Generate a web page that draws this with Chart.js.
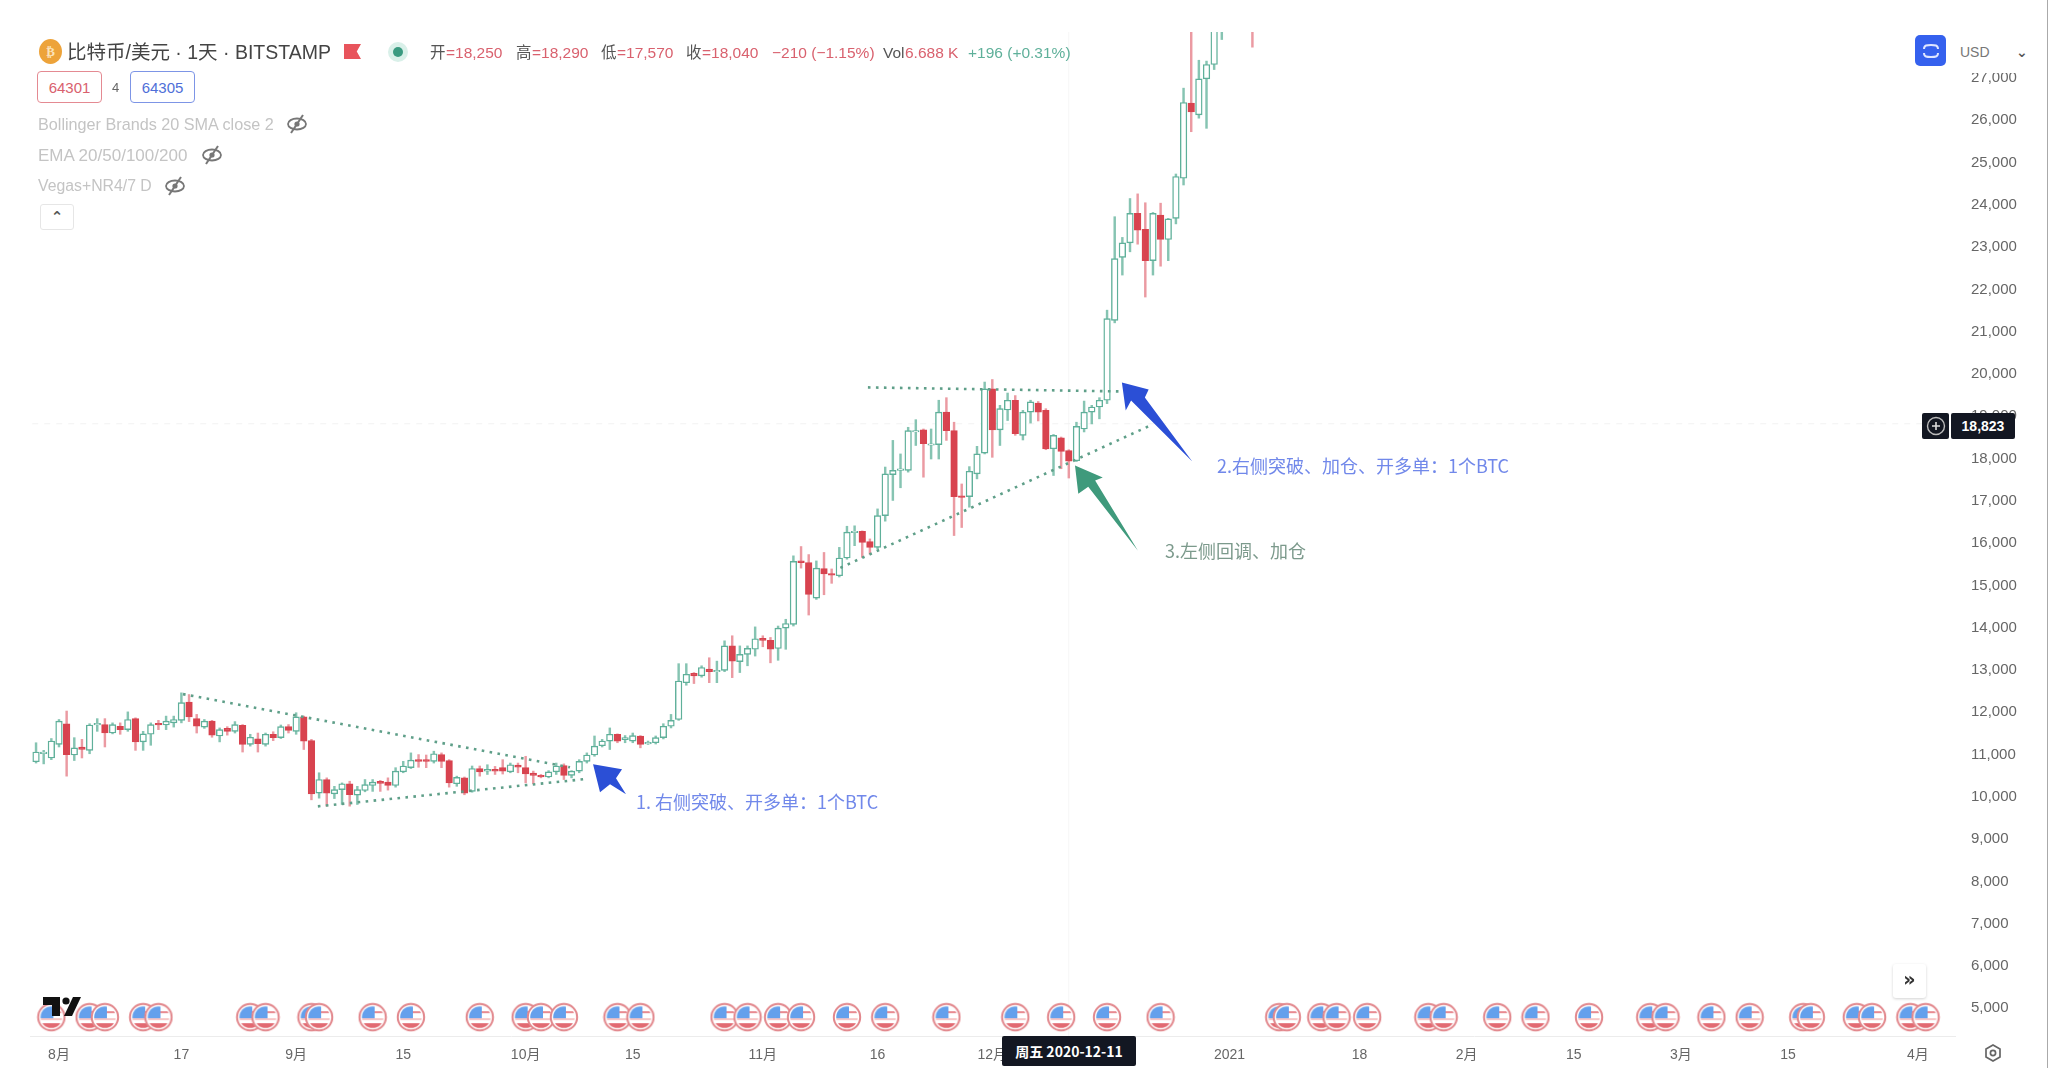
<!DOCTYPE html>
<html><head><meta charset="utf-8">
<script src="https://cdn.jsdelivr.net/npm/chart.js@4"></script>
<style>
html,body{margin:0;padding:0;background:#fff;width:2048px;height:1068px;overflow:hidden}
#wrap{position:absolute;left:0;top:0;width:2048px;height:1068px;filter:blur(.75px);font-family:"Liberation Sans","Noto Sans CJK SC",sans-serif}
#c{position:absolute;left:0;top:0}
.t{position:absolute;white-space:nowrap;line-height:1;transform:translateY(-50%)}
.box{position:absolute;box-sizing:border-box;display:flex;align-items:center;justify-content:center;background:#fff}
</style></head><body>
<div id="wrap">
<canvas id="c" width="2048" height="1068" style="width:2048px;height:1068px"></canvas>
<div id="ov"></div>
</div>
<script>
const xTickDays=[0,16,31,45,61,75,92,107,122,153,170,184,198,212,226,243];
const xTickLabels=['8月','17','9月','15','10月','15','11月','16','12月','2021','18','2月','15','3月','15','4月'];
const yTickValues=[5000,6000,7000,8000,9000,10000,11000,12000,13000,14000,15000,16000,17000,18000,19000,20000,21000,22000,23000,24000,25000,26000,27000];
const yTickLabels=['5,000','6,000','7,000','8,000','9,000','10,000','11,000','12,000','13,000','14,000','15,000','16,000','17,000','18,000','19,000','20,000','21,000','22,000','23,000','24,000','25,000','26,000','27,000'];
const firstCandleDay=-3;
const candleOpen=[10830,11020,10920,11240,11730,10990,11180,11100,11700,11710,11510,11670,11590,11850,11300,11480,11740,11700,11750,11810,12240,11850,11650,11790,11440,11620,11550,11690,11240,11370,11240,11480,11400,11660,11550,11890,11330,10090,10410,10070,10170,10310,10040,10150,10270,10370,10350,10270,10590,10690,10880,10880,10840,11000,10860,10310,10450,10130,10670,10610,10650,10690,10590,10750,10690,10560,10510,10470,10590,10740,10510,10610,10840,10990,11210,11320,11480,11350,11320,11440,11250,11280,11400,11670,11830,12700,12920,12860,13020,12960,12990,13570,13200,13370,13490,13750,13700,13510,13990,14080,15580,15540,14700,15400,15280,15230,15650,16250,16280,16040,15900,16650,17620,17720,17720,18630,18680,18320,18330,19100,18660,17120,17100,17640,18130,19650,18680,19150,19380,18550,19100,19310,19140,18230,18490,18190,17950,18700,19100,19220,19380,21270,22760,23100,23800,23420,22680,23760,23180,23680,24630,26410,26130,26980,27320,28900,29350,29050,29300,33000];
const candleHigh=[11280,11100,11380,11830,12030,11400,11360,11730,11850,11850,11750,11750,12010,11870,11550,11750,11810,11910,11910,12460,12420,11950,11830,11810,11630,11660,11780,11710,11480,11510,11510,11540,11700,11710,11990,11910,11360,10570,10450,10250,10330,10370,10250,10410,10410,10390,10450,10690,10840,11040,11000,10990,11080,11040,10880,10490,10470,10730,10730,10760,10720,10880,10800,10800,10960,10610,10530,10620,10800,10780,10620,10880,11040,11440,11360,11630,11490,11450,11510,11450,11320,11440,11730,11950,13150,13150,12940,13100,13290,13210,13690,13810,13570,13570,14020,13810,13770,14040,14200,15700,15920,15730,15580,15780,15390,15900,16400,16410,16290,16100,16810,17800,18430,18110,18740,18920,18700,18700,19380,19440,18860,17400,17810,18290,19810,19870,19260,19550,19490,19140,19380,19350,19180,18570,18510,18210,18860,19360,19260,19440,21510,23720,23230,24150,24260,24050,23820,24040,23680,24730,26760,28900,27420,27400,29300,29600,29600,29700,33300,34800];
const candleLow=[10800,10780,10880,11180,10490,10860,10920,11020,11550,11180,11490,11480,11550,11100,11100,11220,11590,11590,11650,11750,11780,11510,11620,11410,11300,11460,11510,11060,11200,11060,11200,11330,11380,11510,11480,11120,9930,9970,9780,9960,9820,9780,9820,10120,10130,10130,10160,10230,10570,10670,10700,10690,10800,10690,10230,10250,10050,10110,10490,10530,10530,10540,10570,10570,10330,10310,10450,10450,10530,10410,10450,10570,10800,10960,11180,11120,11280,11280,11280,11160,11240,11250,11370,11630,11810,12640,12680,12830,12700,12700,12960,12820,12940,13100,13330,13550,13170,13230,13490,14040,15410,14300,14670,14780,15050,15200,15620,15940,15660,15740,15860,16520,17010,17310,17680,18310,17560,17990,17990,18430,16180,16370,16850,17520,18110,18030,18310,18900,18550,18440,18840,18890,18210,17600,17760,17540,17930,18630,18820,18940,19300,21210,22340,22890,23070,21820,22340,22550,22680,23550,24470,25730,26050,25810,27200,27910,28700,28800,29000,27730];
const candleClose=[11060,11060,11320,11790,11000,11160,11120,11700,11740,11510,11710,11590,11830,11300,11490,11710,11700,11790,11830,12230,11890,11670,11790,11460,11590,11550,11710,11240,11410,11260,11480,11400,11660,11570,11890,11320,10070,10410,10090,10170,10310,10050,10170,10290,10350,10320,10270,10610,10730,10870,10840,10840,11020,10840,10330,10460,10090,10670,10590,10650,10610,10610,10760,10700,10540,10510,10470,10590,10730,10510,10610,10840,10990,11200,11320,11480,11320,11400,11450,11240,11290,11400,11670,11810,12740,12900,12860,13060,12960,12990,13570,13210,13370,13510,13740,13700,13490,13990,14100,15570,15540,14790,15410,15270,15240,15650,16260,16280,16020,15900,16650,17640,17720,17760,18660,18660,18350,18350,19100,18660,17100,17080,17700,18110,19650,18680,19180,19380,18590,19100,19340,19100,18230,18550,18170,17940,18760,19100,19220,19380,21310,22730,23100,23800,23400,22680,23800,23180,23670,24670,26420,26200,26980,27320,29000,29350,29050,29300,33000,32200];
const flagDays=[-1,4,6,11,13,25,27,33,34,41,46,55,61,63,66,73,76,87,90,94,97,103,108,116,125,131,137,144,159.5,160.5,165,167,171,179,181,188,193,200,208,210,216,221,228,229,235,237,242,244];
const flagPrice=4790;
const trendUpper=[{x:16.21,y:12430},{x:66.8,y:10700}];
const trendLower=[{x:33.84,y:9776},{x:68.54,y:10416}];
const trendRising=[{x:102.14,y:15417},{x:142.64,y:18782}];
const trendFlat=[{x:105.74,y:19683},{x:138.94,y:19588}];
const arrowOne=[[69.81,10772],[73.6,10653],[72.81,10440],[74.12,10060],[72.03,10298],[70.72,10108]];
const arrowTwo=[[138.94,19801],[142.44,19635],[141.94,19446],[148.14,17929],[140.14,19375],[139.44,19138]];
const arrowThree=[[132.81,17834],[136.44,17550],[135.44,17479],[141.04,15820],[134.54,17336],[133.24,17170]];
const lastPrice=18823, crossDay=132;

const GREEN='#5fb09a',GREENW='#86c4b2',RED='#d8434f',REDW='#eb9aa2',DOT='#5f9f89';
const dayOf=i=>firstCandleDay+i;
const up=i=>candleClose[i]>=candleOpen[i];
const bodies=candleOpen.map((o,i)=>({x:dayOf(i),y:[o,candleClose[i]]}));
const wicks=candleHigh.map((h,i)=>({x:dayOf(i),y:[candleLow[i],h]}));

// US flag marker
const flag=document.createElement('canvas');flag.width=flag.height=30;
(function(){const g=flag.getContext('2d'),c=15,r=13.2;
 g.beginPath();g.arc(c,c,r,0,7);g.fillStyle='#fff';g.fill();
 g.save();g.beginPath();g.arc(c,c,r-2.4,0,7);g.clip();
 g.fillStyle='#f6c6c6';g.fillRect(0,16,30,2);g.fillStyle='#e26a72';g.fillRect(0,21,30,5);
 g.fillStyle='#e88a90';g.fillRect(17,9,14,2);
 g.fillStyle='#64a0ec';g.fillRect(0,0,17,16);
 g.restore();
 g.beginPath();g.arc(c,c,r,0,7);g.strokeStyle='#e2878c';g.lineWidth=2;g.stroke();})();

const arrowsPlugin={id:'arrows',afterDatasetsDraw(ch){
 const g=ch.ctx,xs=ch.scales.x,ys=ch.scales.y;
 [[arrowOne,'#2b4fd6'],[arrowTwo,'#2b4fd6'],[arrowThree,'#3f9a7c']].forEach(([pts,col])=>{
  g.save();g.beginPath();
  pts.forEach(([d,p],i)=>{const X=xs.getPixelForValue(d),Y=ys.getPixelForValue(p);i?g.lineTo(X,Y):g.moveTo(X,Y);});
  g.closePath();g.fillStyle=col;g.fill();g.restore();
 });
}};

const dotted=(data,order)=>({type:'line',data,borderColor:DOT,borderWidth:2.6,borderDash:[2.6,5.4],pointRadius:0,order,fill:false,tension:0});

new Chart(document.getElementById('c'),{
 type:'bar',
 data:{datasets:[
  {type:'line',data:[{x:-3.5,y:lastPrice},{x:245,y:lastPrice}],borderColor:'#f2f2f2',borderWidth:1,borderDash:[6,6],pointRadius:0,order:9},
  {type:'line',data:[{x:crossDay,y:4345},{x:crossDay,y:28088}],borderColor:'#f6f6f6',borderWidth:1,pointRadius:0,order:9},
  dotted(trendUpper,1),dotted(trendLower,1),dotted(trendRising,1),dotted(trendFlat,1),
  {data:wicks,barThickness:1.8,grouped:false,order:4,borderWidth:0,backgroundColor:c=>up(c.dataIndex)?GREENW:REDW},
  {data:bodies,barThickness:6.6,grouped:false,order:3,borderSkipped:false,borderWidth:1.4,
   backgroundColor:c=>up(c.dataIndex)?'#fff':RED,borderColor:c=>up(c.dataIndex)?GREEN:RED},
  {type:'scatter',data:flagDays.map(d=>({x:d,y:flagPrice})),pointStyle:flag,pointRadius:14,order:2}
 ]},
 options:{
  responsive:false,animation:false,devicePixelRatio:1,
  layout:{padding:{left:30,top:32,right:0,bottom:0}},
  plugins:{legend:{display:false},tooltip:{enabled:false},title:{display:false}},
  scales:{
   x:{type:'linear',offset:false,min:-3.79,max:247.84,grid:{display:false,offset:false},border:{display:true,color:'#ececec'},
    afterBuildTicks:s=>{s.ticks=xTickDays.map(v=>({value:v}));},
    afterFit:s=>{s.height=32;},
    ticks:{autoSkip:false,maxRotation:0,padding:3,color:'#666',font:{family:'"Liberation Sans","Noto Sans CJK SC"',size:14},
     callback:(v,i)=>xTickLabels[i]}},
   y:{type:'linear',position:'right',min:4345,max:28088,grid:{display:false},border:{display:false},
    afterBuildTicks:s=>{s.ticks=yTickValues.map(v=>({value:v}));},
    afterFit:s=>{s.width=93;},
    ticks:{autoSkip:false,padding:8,color:'#666',font:{family:'"Liberation Sans"',size:15},
     callback:(v,i)=>yTickLabels[i]}}
  }
 },
 plugins:[arrowsPlugin]
});

// overlay text and chart furniture
const ov=document.getElementById('ov');
function T(x,y,s,col,size,extra){const e=document.createElement('div');e.className='t';e.textContent=s;
 e.style.cssText=`left:${x}px;top:${y}px;color:${col};font-size:${size}px;${extra||''}`;ov.appendChild(e);return e;}
function B(x,y,w,h,css,html){const e=document.createElement('div');e.className='box';
 e.style.cssText=`left:${x}px;top:${y}px;width:${w}px;height:${h}px;${css}`;if(html)e.innerHTML=html;ov.appendChild(e);return e;}

const RT='#d9616e',GT='#5fb09a',DK='#555';
B(39,39,23,25,'border-radius:50%;background:#eda33a;color:#fbe2b8;font:bold 13px "DejaVu Sans"','₿');
T(67,53,'比特币/美元 · 1天 · BITSTAMP','#444',19.5);
B(344,44,17,15,'background:#e8545c;clip-path:polygon(0 0,100% 0,75% 50%,100% 100%,0 100%)');
B(388,42,20,20,'border-radius:50%;background:#d9f0e9');B(393,47,10,10,'border-radius:50%;background:#3a9a80');
[[430,'开',DK],[446,'=18,250',RT],[516,'高',DK],[532,'=18,290',RT],[601,'低',DK],[617,'=17,570',RT],[686,'收',DK],[702,'=18,040',RT],[772,'−210 (−1.15%)',RT],[883,'Vol',DK],[905,'6.688 K',RT],[968,'+196 (+0.31%)',GT]]
 .forEach(([x,s,c])=>T(x,53,s,c,15.5));
B(37,71,65,32,'border:1.5px solid #e48a92;border-radius:4px;color:#d9616e;font-size:15px','64301');
T(112,87,'4','#666',13);
B(130,71,65,32,'border:1.5px solid #7d95e6;border-radius:4px;color:#4f6fd8;font-size:15px','64305');
const eye=`<svg width="24" height="20" viewBox="0 0 24 20"><ellipse cx="12" cy="10" rx="9" ry="5.5" fill="none" stroke="#777" stroke-width="1.8"/><circle cx="12" cy="10" r="2.6" fill="#777"/><line x1="18" y1="1" x2="6" y2="19" stroke="#777" stroke-width="2"/></svg>`;
[[38,124,'Bollinger Brands 20 SMA close 2',285,16.2],[38,155,'EMA 20/50/100/200',200,17],[38,186,'Vegas+NR4/7 D',163,15.8]].forEach(([x,y,s,ex,fs])=>{
 T(x,y,s,'#c4c4c4',fs);B(ex,y-10,24,20,'background:transparent',eye);});
B(40,204,34,26,'border:1px solid #e6e6e6;border-radius:3px;color:#555;font:bold 15px "DejaVu Sans"','⌃');
// top-right
B(1957,32,91,41,'background:#fff');
B(1915,35,31,31,'background:#3561ee;border-radius:5px','<svg width="20" height="18" viewBox="0 0 20 18"><path d="M3 7C3 3 6 3 10 3s7 0 7 4M17 11c0 4-3 4-7 4s-7 0-7-4" fill="none" stroke="#dfe6ff" stroke-width="2"/></svg>');
T(1960,52,'USD','#777',14);T(2016,52,'⌄','#555',14,'font-family:"DejaVu Sans";font-weight:bold;');
// last price badge
B(1922,413,27,26,'background:#131722;border-radius:2px','<svg width="22" height="22" viewBox="0 0 22 22"><circle cx="11" cy="11" r="8.5" fill="none" stroke="#bbb" stroke-width="1.4"/><path d="M7 11h8M11 7v8" stroke="#ddd" stroke-width="1.6"/></svg>');
B(1951,413,64,26,'background:#131722;border-radius:2px;color:#fff;font-weight:bold;font-size:14px','18,823');
// annotations
const CJK='font-family:"Noto Sans CJK SC",sans-serif;';
T(636,801,'1. 右侧突破、开多单：1个BTC','#7188ea',18,CJK);
T(1217,465,'2.右侧突破、加仓、开多单：1个BTC','#7188ea',18,CJK);
T(1165,550,'3.左侧回调、加仓','#7c9a8c',18,CJK);
// bottom furniture
B(1002,1036,134,30,'background:#131722;border-radius:2px;color:#fff;font-size:14px;font-weight:bold;'+CJK,'周五 2020-12-11');
B(1893,964,33,34,'background:#fff;border-radius:3px;box-shadow:0 1px 3px rgba(0,0,0,.18);color:#333;font:bold 19px "DejaVu Sans";padding-bottom:4px','»');
B(1983,1043,20,20,'background:transparent','<svg width="20" height="20" viewBox="0 0 20 20"><path d="M10 2l7 4v8l-7 4-7-4V6z" fill="none" stroke="#666" stroke-width="1.7"/><circle cx="10" cy="10" r="2.6" fill="none" stroke="#666" stroke-width="1.7"/></svg>');
B(43,997,38,19,'background:transparent','<svg width="38" height="19" viewBox="0 0 38 19"><path d="M0 0h17v19h-8V8H0z" fill="#111"/><circle cx="23" cy="4" r="3.6" fill="#111"/><path d="M30 0h8l-9 19h-8z" fill="#111"/></svg>');
B(2047,0,1,1068,'background:#aaa');
</script>
</body></html>
